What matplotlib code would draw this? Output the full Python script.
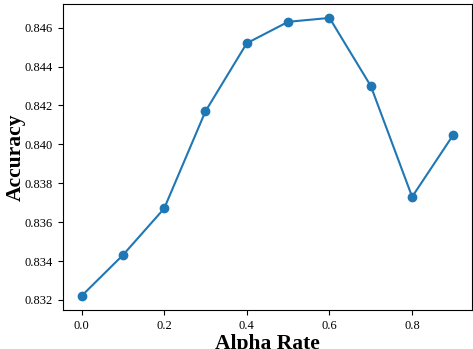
import matplotlib.pyplot as plt

plt.rcParams['font.family'] = ['Liberation Serif', 'DejaVu Serif']

alpha = [0.0, 0.1, 0.2, 0.3, 0.4, 0.5, 0.6, 0.7, 0.8, 0.9]
accuracy = [0.8322, 0.8343, 0.8367, 0.8417, 0.8452, 0.8463, 0.8465, 0.8430, 0.8373, 0.8405]

fig = plt.figure(figsize=(4.73, 3.49), dpi=100)
ax = fig.add_axes([0.133, 0.112, 0.865, 0.8765])
ax.plot(alpha, accuracy, '-o', color='#1f77b4')
ax.set_xlabel("Alpha Rate", fontsize=15.5, fontweight='bold', labelpad=2)
ax.set_ylabel("Accuracy", fontsize=15.5, fontweight='bold')
ax.yaxis.set_label_coords(-0.09, 0.5)
ax.tick_params(labelsize=9)
ax.set_yticks([0.832, 0.834, 0.836, 0.838, 0.840, 0.842, 0.844, 0.846])
ax.set_xticks([0.0, 0.2, 0.4, 0.6, 0.8])

fig.savefig("out.png", dpi=100)
